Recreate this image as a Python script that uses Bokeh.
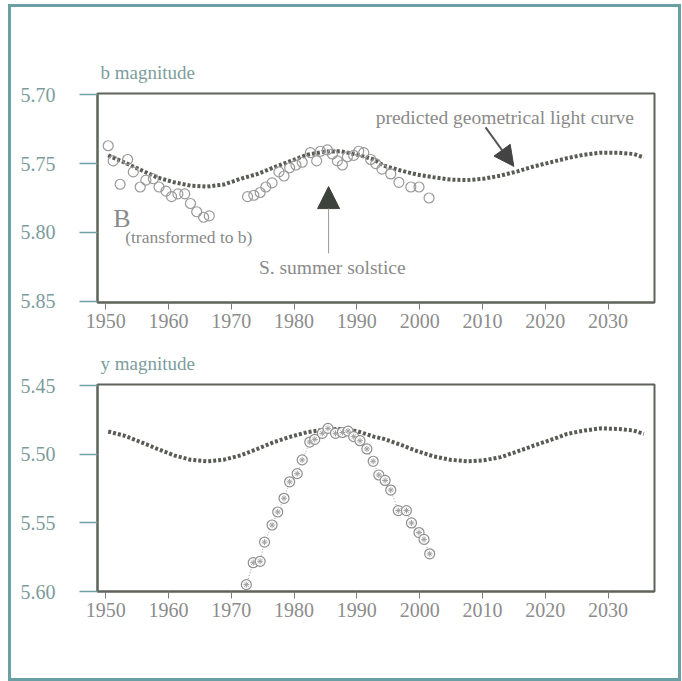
from bokeh.plotting import figure
from bokeh.layouts import column
from bokeh.models import Arrow, NormalHead, Label, FixedTicker, Range1d, PrintfTickFormatter
from bokeh.embed import file_html
from bokeh.resources import INLINE

# ---------------- data ----------------
pred_years = [1950.4, 1952.9, 1955.6, 1958.2, 1960.9, 1963.5, 1966.2, 1968.8, 1971.5,
              1974.2, 1976.8, 1979.5, 1982.1, 1984.8, 1987.4, 1990.1, 1992.7, 1994.3,
              1997.0, 1999.6, 2002.3, 2004.9, 2007.6, 2010.2, 2012.9, 2015.6, 2018.2,
              2020.9, 2023.5, 2026.2, 2028.8, 2031.5, 2034.1, 2035.7]
pred_b = [5.744, 5.749, 5.7546, 5.760, 5.7636, 5.766, 5.7667, 5.7652, 5.761,
          5.7575, 5.7527, 5.748, 5.7435, 5.7413, 5.741, 5.7435, 5.747, 5.7515,
          5.755, 5.758, 5.760, 5.7616, 5.762, 5.761, 5.7587, 5.7556, 5.752,
          5.749, 5.746, 5.7435, 5.742, 5.742, 5.743, 5.7455]
pred_y = [5.4833, 5.4862, 5.491, 5.4959, 5.5007, 5.5039, 5.5051, 5.5039, 5.5007,
          5.4959, 5.491, 5.487, 5.4838, 5.4819, 5.4814, 5.4831, 5.487, 5.4887,
          5.493, 5.4976, 5.5015, 5.5039, 5.5051, 5.5043, 5.502, 5.4978, 5.4935,
          5.4894, 5.485, 5.4826, 5.481, 5.4814, 5.4826, 5.485]

obs_b_years = [1950.4, 1951.2, 1952.3, 1953.5, 1954.4, 1955.5, 1956.4, 1957.6, 1958.5,
               1959.6, 1960.5, 1961.5, 1962.6, 1963.5, 1964.5, 1965.6, 1966.5,
               1972.6, 1973.6, 1974.6, 1975.5, 1976.5, 1977.6, 1978.4, 1979.3, 1980.3,
               1981.3, 1982.6, 1983.6, 1984.2, 1985.3, 1986.1, 1986.9, 1987.7, 1988.5,
               1989.5, 1990.3, 1991.1, 1992.2, 1993.0, 1994.0, 1995.4, 1996.7, 1998.6,
               1999.9, 2001.5]
obs_b = [5.737, 5.748, 5.765, 5.747, 5.756, 5.767, 5.762, 5.761, 5.767,
         5.770, 5.774, 5.772, 5.772, 5.779, 5.785, 5.789, 5.788,
         5.774, 5.773, 5.771, 5.767, 5.764, 5.756, 5.759, 5.753, 5.751,
         5.749, 5.742, 5.748, 5.741, 5.740, 5.743, 5.748, 5.751, 5.745,
         5.744, 5.741, 5.742, 5.747, 5.750, 5.754, 5.7575, 5.7636, 5.767,
         5.767, 5.775]

obs_y_years = [1972.4, 1973.5, 1974.6, 1975.3, 1976.5, 1977.4, 1978.4, 1979.3, 1980.5,
               1981.3, 1982.5, 1983.3, 1984.5, 1985.4, 1986.6, 1987.7, 1988.6, 1989.5,
               1990.5, 1991.6, 1992.6, 1993.5, 1994.5, 1995.4, 1996.6, 1997.9, 1998.7,
               1999.9, 2000.7, 2001.6]
obs_y = [5.595, 5.579, 5.578, 5.564, 5.5515, 5.542, 5.532, 5.520, 5.514,
         5.504, 5.491, 5.489, 5.4846, 5.481, 5.4846, 5.484, 5.483, 5.487,
         5.490, 5.496, 5.505, 5.515, 5.519, 5.526, 5.541, 5.541, 5.550,
         5.557, 5.562, 5.5725]

x_ticks = [1950, 1960, 1970, 1980, 1990, 2000, 2010, 2020, 2030]
b_ticks = [5.70, 5.75, 5.80, 5.85]
y_ticks = [5.45, 5.50, 5.55, 5.60]

# ---------------- styling ----------------
SERIF = "Liberation Serif"
FRAME = "#5f6359"
TEAL_TICK = "#6f9fa3"
YLAB = "#7c9c9c"
XLAB = "#8c8c8c"
CURVE = "#585c55"
PT = "#9a9a9a"
ANN = "#8a8a8a"


def style(p, yticks):
    p.toolbar_location = None
    p.xgrid.visible = False
    p.ygrid.visible = False
    p.outline_line_color = FRAME
    p.outline_line_width = 2
    p.background_fill_color = "white"
    p.border_fill_color = "white"
    p.xaxis.ticker = FixedTicker(ticks=x_ticks)
    p.yaxis.ticker = FixedTicker(ticks=yticks)
    p.yaxis.formatter = PrintfTickFormatter(format="%.2f")
    for ax in (p.xaxis[0], p.yaxis[0]):
        ax.axis_line_color = FRAME
        ax.axis_line_width = 2
        ax.minor_tick_line_color = None
        ax.major_tick_in = 0
        ax.major_label_text_font = SERIF
        ax.major_label_text_font_size = "20px"
    xa = p.xaxis[0]
    xa.major_tick_out = 7
    xa.major_tick_line_color = "#7a7a7a"
    xa.major_label_text_color = XLAB
    xa.major_label_standoff = 4
    ya = p.yaxis[0]
    ya.major_tick_out = 18
    ya.major_tick_line_color = TEAL_TICK
    ya.major_tick_line_width = 1.5
    ya.major_label_text_color = YLAB
    ya.major_label_standoff = 24
    p.title.text_font = SERIF
    p.title.text_font_size = "19px"
    p.title.text_font_style = "normal"
    p.title.text_color = YLAB
    p.title.align = "left"
    p.title.offset = 3
    p.title.standoff = 21


X_RANGE = (1948.7, 2037.4)

# ---------------- top panel: b magnitude ----------------
p1 = figure(width=667, height=332, output_backend="svg", toolbar_location=None,
            x_range=Range1d(*X_RANGE), y_range=Range1d(5.851, 5.699),
            title="b magnitude",
            min_border_left=86, min_border_right=24, min_border_top=86, min_border_bottom=37)
style(p1, b_ticks)

p1.line(pred_years, pred_b, line_color=CURVE, line_width=4, line_dash="3 2")
p1.scatter(obs_b_years, obs_b, marker="circle", size=10, line_color=PT, line_width=1.2,
           fill_alpha=0)

p1.add_layout(Label(x=1993.0, y=5.7167, text="predicted geometrical light curve",
                    text_font=SERIF, text_font_size="19.5px", text_color=ANN,
                    text_baseline="middle"))
p1.add_layout(Arrow(x_start=2010.5, y_start=5.7237, x_end=2015.0, y_end=5.752,
                    line_color="#555555", line_width=2,
                    end=NormalHead(size=20, fill_color="#444444", line_color="#444444")))
p1.add_layout(Label(x=1951.2, y=5.790, text="B", text_font=SERIF, text_font_size="26px",
                    text_color=ANN, text_baseline="middle"))
p1.add_layout(Label(x=1953.1, y=5.8037, text="(transformed to b)", text_font=SERIF,
                    text_font_size="17.5px", text_color=ANN, text_baseline="middle"))
p1.add_layout(Label(x=1974.4, y=5.8254, text="S. summer solstice", text_font=SERIF,
                    text_font_size="19.5px", text_color=ANN, text_baseline="middle"))
p1.add_layout(Arrow(x_start=1985.5, y_start=5.8153, x_end=1985.5, y_end=5.7667,
                    line_color="#999999", line_width=1,
                    end=NormalHead(size=22, fill_color="#3e423c", line_color="#3e423c")))

# ---------------- bottom panel: y magnitude ----------------
p2 = figure(width=667, height=339, output_backend="svg", toolbar_location=None,
            x_range=Range1d(*X_RANGE), y_range=Range1d(5.600, 5.449),
            title="y magnitude",
            min_border_left=86, min_border_right=24, min_border_top=45, min_border_bottom=87)
style(p2, y_ticks)

p2.line(pred_years, pred_y, line_color=CURVE, line_width=4, line_dash="3 2")
p2.line(obs_y_years, obs_y, line_color="#9a9a9a", line_width=1, line_dash="1 2")
p2.scatter(obs_y_years, obs_y, marker="circle", size=10, line_color="#8e8e8e",
           line_width=1.2, fill_color="white")
p2.scatter(obs_y_years, obs_y, marker="asterisk", size=6, line_color="#a0a0a0",
           line_width=1)

layout = column(p1, p2, margin=(4, 0, 0, 8),
                styles={"border": "3px solid #6a9fa4"})

open("out.html", "w").write(file_html(layout, INLINE))
